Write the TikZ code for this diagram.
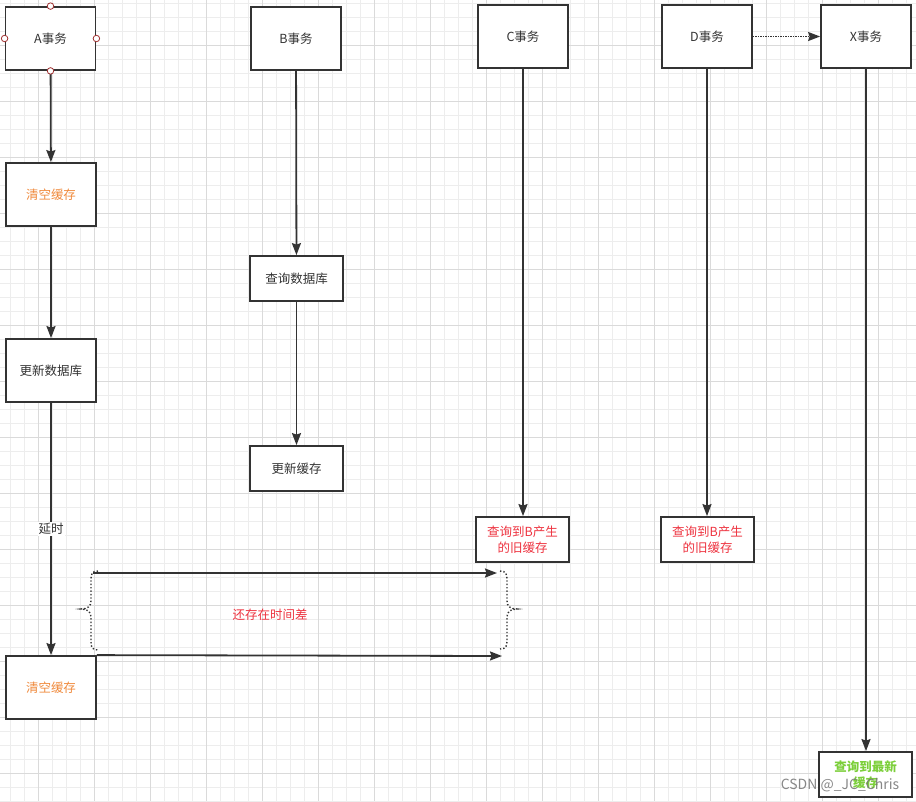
\documentclass[tikz,border=0pt]{standalone}
\usepackage{fontspec}
\newfontfamily\cjk{Noto Sans CJK SC}
\usetikzlibrary{arrows.meta}
\definecolor{ink}{HTML}{333333}
\definecolor{txt}{HTML}{333333}
\definecolor{orng}{HTML}{F08A3C}
\definecolor{rd}{HTML}{EE3340}
\definecolor{grn}{HTML}{7CCF3A}
\definecolor{gminor}{HTML}{EDEDED}
\definecolor{gmajor}{HTML}{DADADA}
\definecolor{pin}{HTML}{A03030}
\tikzset{
  box/.style={draw=ink, line width=1.8pt, fill=white, inner sep=0pt, align=center,
    font=\cjk\fontsize{12.5}{16}\selectfont, text=txt},
  bigbox/.style={box, minimum width=90pt, minimum height=63pt},
  smallbox/.style={box, minimum width=93pt, minimum height=45pt},
  flow/.style={draw=ink, line width=1.8pt, -{Stealth[length=12pt,width=9pt,inset=1.5pt]}},
  pinc/.style={circle, draw=pin, fill=white, line width=0.8pt, minimum size=6.5pt, inner sep=0pt},
  bracestyle/.style={draw=ink, line width=1.4pt, dotted},
  lbl/.style={font=\cjk\fontsize{12.5}{16}\selectfont, inner sep=1pt}
}
\begin{document}
\begin{tikzpicture}[x=1pt,y=-1pt]
\useasboundingbox (0,0) rectangle (916,801);
\fill[white] (0,0) rectangle (916,801);
% grid
\foreach \i in {0,...,65} {
  \draw[gminor, line width=0.9pt] ({10+14*\i},0) -- ({10+14*\i},801);
}
\foreach \i in {0,...,57} {
  \draw[gminor, line width=0.9pt] (0,{3.3+14*\i}) -- (916,{3.3+14*\i});
}
\foreach \i in {0,...,16} {
  \draw[gmajor, line width=1pt] ({38+56*\i},0) -- ({38+56*\i},801);
}
\foreach \i in {0,...,14} {
  \draw[gmajor, line width=1pt] (0,{45.3+56*\i}) -- (916,{45.3+56*\i});
}

% top transactions
\node[bigbox] (A) at (50.5,38.5) {A事务};
\node[bigbox] (B) at (296,38.5) {B事务};
\node[bigbox] (C) at (523,36.5) {C事务};
\node[bigbox] (D) at (707,36.5) {D事务};
\node[bigbox] (X) at (866,36.5) {X事务};

% A column
\node[bigbox, text=orng] (clr1) at (51,194.5) {清空缓存};
\node[bigbox] (upd) at (51,370.5) {更新数据库};
\node[bigbox, text=orng] (clr2) at (51,687.5) {清空缓存};

% B column
\node[smallbox] (qdb) at (296.5,278.5) {查询数据库};
\node[smallbox] (ucache) at (296.5,468.5) {更新缓存};

% results
\node[smallbox, text=rd] (cres) at (522.5,539.5) {查询到B产生\\的旧缓存};
\node[smallbox, text=rd] (dres) at (707.5,539.5) {查询到B产生\\的旧缓存};
\node[smallbox, text=grn, font=\cjk\bfseries\fontsize{12.5}{16}\selectfont] (xres) at (865.5,774.5) {查询到最新\\缓存};

% vertical flows
\draw[flow] (A) -- (clr1);
\draw[flow] (clr1) -- (upd);
\draw[flow] (upd) -- node[lbl, fill=white, text=txt, pos=0.5] (delay) {延时} (clr2);
\draw[flow] (B) -- (qdb);
\draw[flow] (qdb) -- (ucache);
\draw[flow] (C.south) -- (cres.north -| C.south);
\draw[flow] (D.south) -- (dres.north -| D.south);
\draw[flow] (X.south) -- (xres.north -| X.south);
\draw[draw=ink, line width=1.5pt, densely dotted, -{Stealth[length=12pt,width=9pt,inset=1.5pt]}] (D.east) -- (X.west);

% connection pins on A
\node[pinc] (p1) at (A.north) {};
\node[pinc] (p2) at (A.west) {};
\node[pinc] (p3) at (A.east) {};
\node[pinc] (p4) at (A.south) {};

% time gap arrows
\coordinate (t1s) at (93,573);
\coordinate (t1e) at (497,573);
\coordinate (t2e) at (502,656);
\draw[flow] (t1s) -- (t1e);
\draw[flow] (clr2.north east) -- (t2e);

% braces
\draw[bracestyle] (98,571) .. controls (92,571) and (91,574) .. (91,580) -- (91,601)
  .. controls (91,606) and (88,609) .. (81,609)
  .. controls (88,609) and (91,612) .. (91,617) -- (91,642)
  .. controls (91,647) and (92,650) .. (98,650);
\draw[bracestyle] (500,571) .. controls (506,571) and (507,574) .. (507,580) -- (507,601)
  .. controls (507,606) and (510,609) .. (517,609)
  .. controls (510,609) and (507,612) .. (507,617) -- (507,641)
  .. controls (507,646) and (506,649) .. (500,649);

\node[lbl, text=rd] (gap) at (270,615) {还存在时间差};

% watermark
\node[font=\cjk\fontsize{14}{16}\selectfont, text=black!55, opacity=0.85, inner sep=0pt] (wm) at (840,785) {CSDN @\_JC\_Chris};
\end{tikzpicture}
\end{document}
